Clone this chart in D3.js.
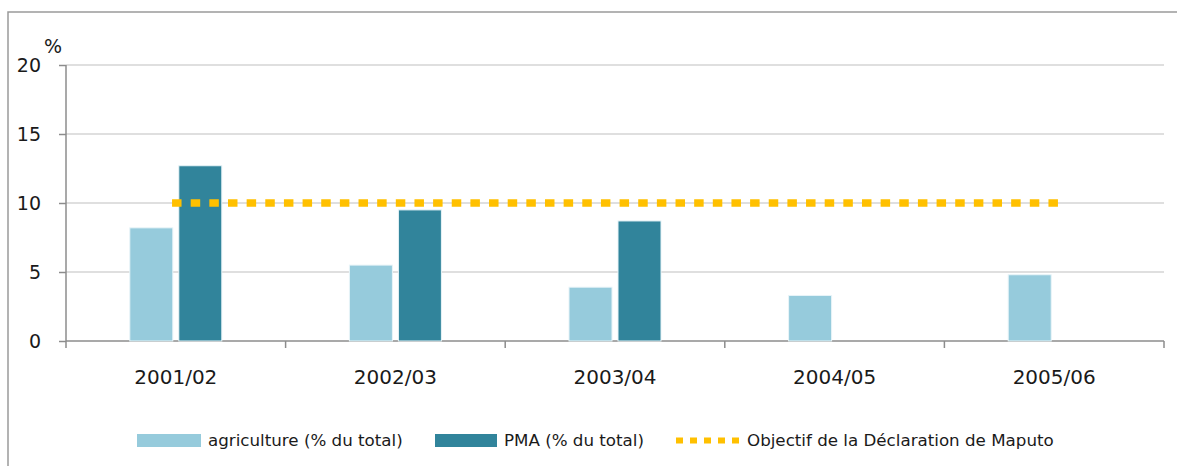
<!DOCTYPE html>
<meta charset="utf-8">
<style>
body { margin: 0; background: #fff; }
text { font-family: "DejaVu Sans", sans-serif; fill: #1a1a1a; }
.grid line { stroke: #d4d4d4; stroke-width: 1.5px; }
.axis path, .axis line { stroke: #8c8c8c; stroke-width: 1.5px; }
</style>
<body>
<svg width="1177" height="466"></svg>
<script src="https://d3js.org/d3.v7.min.js"></script>
<script>
// data
var years = ["2001/02", "2002/03", "2003/04", "2004/05", "2005/06"];
var agriculture = [8.2, 5.5, 3.9, 3.3, 4.8];
var pma = [12.7, 9.5, 8.7, null, null];
var maputo = [10, 10, 10, 10, 10];
var yTicks = [0, 5, 10, 15, 20];
var seriesNames = ["agriculture (% du total)", "PMA (% du total)", "Objectif de la Déclaration de Maputo"];
var colors = { agri: "#96cbdc", pma: "#31849b", maputo: "#ffc000" };

var svg = d3.select("svg");

// outer chart border (top and left only visible)
svg.append("path")
    .attr("d", "M8,466 L8,12 L1177,12")
    .attr("fill", "none")
    .attr("stroke", "#9a9a9a")
    .attr("stroke-width", 1.5);

var plotLeft = 66, plotRight = 1164, plotTop = 65, plotBottom = 341;

var x = d3.scaleBand().domain(years).range([plotLeft, plotRight]).padding(0);
var x1 = d3.scaleBand().domain(["agri", "pma"]).range([-46, 46]).paddingInner(0.1224);
var y = d3.scaleLinear().domain([0, 20]).range([plotBottom, plotTop]);

// gridlines
svg.append("g").attr("class", "grid")
  .selectAll("line").data(yTicks.filter(function(d) { return d > 0; }))
  .enter().append("line")
    .attr("x1", plotLeft).attr("x2", plotRight)
    .attr("y1", function(d) { return y(d); })
    .attr("y2", function(d) { return y(d); });

// y axis
var yAxis = svg.append("g").attr("class", "axis")
    .attr("transform", "translate(" + plotLeft + ",0)")
    .call(d3.axisLeft(y).tickValues(yTicks).tickSize(7).tickSizeOuter(0).tickPadding(18));
yAxis.select(".domain").remove();
yAxis.append("line").attr("x1", 0).attr("x2", 0).attr("y1", plotTop).attr("y2", plotBottom);
yAxis.selectAll("text")
    .style("font-size", "19px")
    .style("font-family", "DejaVu Sans")
    .attr("fill", "#1a1a1a")
    .attr("dy", "0.36em");

// x axis with ticks at category boundaries
var xAxisG = svg.append("g").attr("class", "axis")
    .attr("transform", "translate(0," + plotBottom + ")");
xAxisG.append("line").attr("x1", plotLeft).attr("x2", plotRight).attr("y1", 0).attr("y2", 0);
xAxisG.selectAll(".tk").data(years.concat(["end"]))
  .enter().append("line").attr("class", "tk")
    .attr("x1", function(d, i) { return i < years.length ? x(d) : plotRight; })
    .attr("x2", function(d, i) { return i < years.length ? x(d) : plotRight; })
    .attr("y1", 0).attr("y2", 7);
xAxisG.selectAll(".lbl").data(years)
  .enter().append("text").attr("class", "lbl")
    .attr("x", function(d) { return x(d) + x.bandwidth() / 2; })
    .attr("y", 43)
    .attr("text-anchor", "middle")
    .style("font-size", "20px")
    .text(function(d) { return d; });

// % unit label
svg.append("text").attr("x", 44).attr("y", 53).style("font-size", "19px").text("%");

// bars
var barData = [];
years.forEach(function(yr, i) {
  barData.push({ year: yr, key: "agri", value: agriculture[i] });
  if (pma[i] != null) barData.push({ year: yr, key: "pma", value: pma[i] });
});
svg.append("g").selectAll("rect").data(barData)
  .enter().append("rect")
    .attr("x", function(d) { return x(d.year) + x.bandwidth() / 2 + x1(d.key); })
    .attr("width", x1.bandwidth())
    .attr("y", function(d) { return y(d.value); })
    .attr("height", function(d) { return y(0) - y(d.value); })
    .attr("fill", function(d) { return colors[d.key]; })
    .attr("stroke", "#e8f4f8")
    .attr("stroke-width", 1);

// Maputo target line (square dots, pattern fitted so it ends on a dot)
var line = d3.line()
    .x(function(d, i) { return x(years[i]) + x.bandwidth() / 2; })
    .y(function(d) { return y(d); });
var span = x.bandwidth() * (years.length - 1);
var period = (span - 2) / 47;
svg.append("path")
    .attr("d", line(maputo))
    .attr("fill", "none")
    .attr("stroke", colors.maputo)
    .attr("stroke-width", 7.5)
    .attr("stroke-linecap", "square")
    .attr("stroke-dasharray", "2 " + (period - 2));

// legend
var lg = svg.append("g").style("font-size", "16.7px");
lg.append("rect").attr("x", 137).attr("y", 434).attr("width", 64).attr("height", 13).attr("fill", colors.agri);
lg.append("text").attr("x", 208).attr("y", 446).text(seriesNames[0]);
lg.append("rect").attr("x", 435).attr("y", 434).attr("width", 62).attr("height", 13).attr("fill", colors.pma);
lg.append("text").attr("x", 504).attr("y", 446).text(seriesNames[1]);
lg.append("line").attr("x1", 679).attr("x2", 742).attr("y1", 440.5).attr("y2", 440.5)
    .attr("stroke", colors.maputo).attr("stroke-width", 6)
    .attr("stroke-linecap", "square").attr("stroke-dasharray", "1 13");
lg.append("text").attr("x", 747).attr("y", 446).text(seriesNames[2]);
</script>
</body>
